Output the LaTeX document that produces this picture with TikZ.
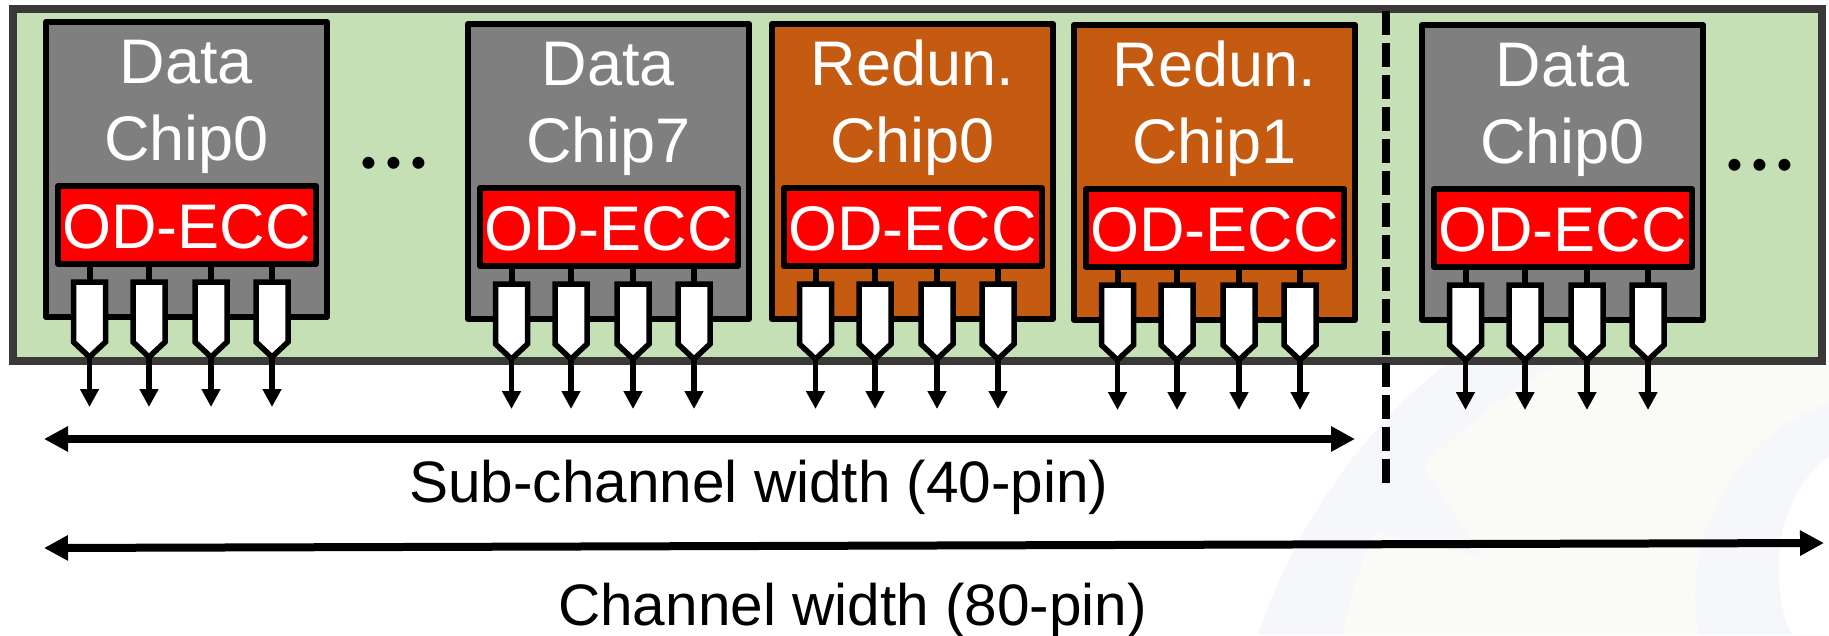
\documentclass[tikz,border=0pt]{standalone}
\usepackage{fontspec}
\setmainfont{Liberation Sans}
\newfontfamily\dotfont{Carlito}
\usetikzlibrary{arrows.meta,calc}
\definecolor{framegreen}{HTML}{C5E0B4}
\definecolor{framedark}{HTML}{3B3838}
\definecolor{chipgray}{HTML}{7F7F7F}
\definecolor{chiporange}{HTML}{C55A11}
\definecolor{wmblue}{HTML}{F6F7FA}
\definecolor{wmcream}{HTML}{FAFBF6}
\tikzset{
  frame/.style={draw=framedark,fill=framegreen,line width=8pt,miter limit=10},
  chipbox/.style={draw=black,line width=6pt,line join=round,inner sep=0pt,outer sep=0pt,minimum width=281pt,minimum height=295pt,anchor=north west},
  eccbox/.style={draw=black,fill=red,line width=6pt,line join=round,inner sep=0pt,outer sep=0pt,minimum width=258pt,minimum height=78pt,anchor=north west},
  chiptext/.style={text=white,inner sep=0pt,anchor=base,font=\fontsize{63}{70}\selectfont},
  pinbody/.style={draw=black,fill=white,line width=5.5pt,miter limit=10},
  stem/.style={draw=black,line width=6pt},
  pinarrow/.style={draw=black,line width=5.5pt,-{Triangle[length=18pt,width=18pt]}},
  widtharrow/.style={draw=black,line width=8pt,{Triangle[length=24pt,width=24pt]}-{Triangle[length=24pt,width=24pt]}},
  caption/.style={text=black,inner sep=0pt,anchor=base,font=\fontsize{58.5}{66}\selectfont},
  dots/.style={text=black,inner sep=0pt,anchor=base,font=\fontsize{99}{99}\selectfont\dotfont},
}
% #1 name, #2 outer left, #3 outer top, #4 fill, #5 first line, #6 second line
\newcommand{\chipunit}[6]{%
  \node[chipbox,fill=#4] (#1) at (#2+3,#3+3) {};
  \node[chiptext] (#1l1) at (#2+143.5,#3+64.5) {#5};
  \node[chiptext] (#1l2) at (#2+143.5,#3+141.5) {#6};
  \node[eccbox] (#1ecc) at (#2+15,#3+167) {};
  \node[chiptext] (#1ecct) at (#2+143.5,#3+229.5) {OD-ECC};
  \foreach \i/\o in {1/46.5,2/106,3/168,4/229}{
    \coordinate (#1t\i) at (#2+\o,#3+263);
    \coordinate (#1tip\i) at (#2+\o,#3+338);
    \coordinate (#1end\i) at (#2+\o,#3+388);
    \draw[stem] (#1ecc.south -| #1t\i) -- (#1t\i);
    \draw[pinbody] (#2+\o-16,#3+263) -- (#2+\o+16,#3+263) -- (#2+\o+16,#3+323)
       -- (#1tip\i) -- (#2+\o-16,#3+323) -- cycle;
    \draw[pinarrow] (#1tip\i) -- (#1end\i);
  }%
}
\begin{document}
\begin{tikzpicture}[x=1pt,y=-1pt]
\useasboundingbox (0,0) rectangle (1829,635);
\fill[white] (0,0) rectangle (1829,635);
% faint watermark
\fill[wmblue] (1258,635) .. controls (1290,540) and (1350,440) .. (1445,365) -- (1829,365) -- (1829,635) -- cycle;
\fill[wmcream] (1342,635) .. controls (1350,600) and (1360,565) .. (1375,533) -- (1483,557) -- (1424,467)
   .. controls (1465,425) and (1510,390) .. (1556,365) -- (1829,365) -- (1829,635) -- cycle;
\fill[wmblue] (1700,635) .. controls (1680,560) and (1720,440) .. (1829,403) -- (1829,635) -- cycle;
\fill[white] (1792,635) .. controls (1770,590) and (1770,500) .. (1829,457) -- (1829,635) -- cycle;
% frame
\node[frame,inner sep=0pt,outer sep=0pt,minimum width=1809pt,minimum height=352pt,anchor=north west] (board) at (13,9) {};
\coordinate (divtop) at (1386,11);
\coordinate (divbot) at (1386,483);
\draw[black,line width=8pt,dash pattern=on 24pt off 8pt] (divtop) -- (divbot);
\chipunit{dz}{43}{19}{chipgray}{Data}{Chip0}
\chipunit{ds}{465}{21}{chipgray}{Data}{Chip7}
\chipunit{rz}{769}{21}{chiporange}{Redun.}{Chip0}
\chipunit{ro}{1071}{22}{chiporange}{Redun.}{Chip1}
\chipunit{dn}{1419}{22}{chipgray}{Data}{Chip0}
\node[dots] (dotsa) at (394,168) {...};
\node[dots] (dotsb) at (1760,170) {...};
% width arrows
\coordinate (subl) at (44,439);
\coordinate (subr) at (1355,439);
\coordinate (chl) at (44,548);
\coordinate (chr) at (1824,543);
\draw[widtharrow] (subl) -- (subr);
\draw[widtharrow] (chl) -- (chr);
\node[caption] (subtxt) at (759,502) {Sub-channel width (40-pin)};
\node[caption] (chtxt) at (852.5,625) {Channel width (80-pin)};
\end{tikzpicture}
\end{document}
